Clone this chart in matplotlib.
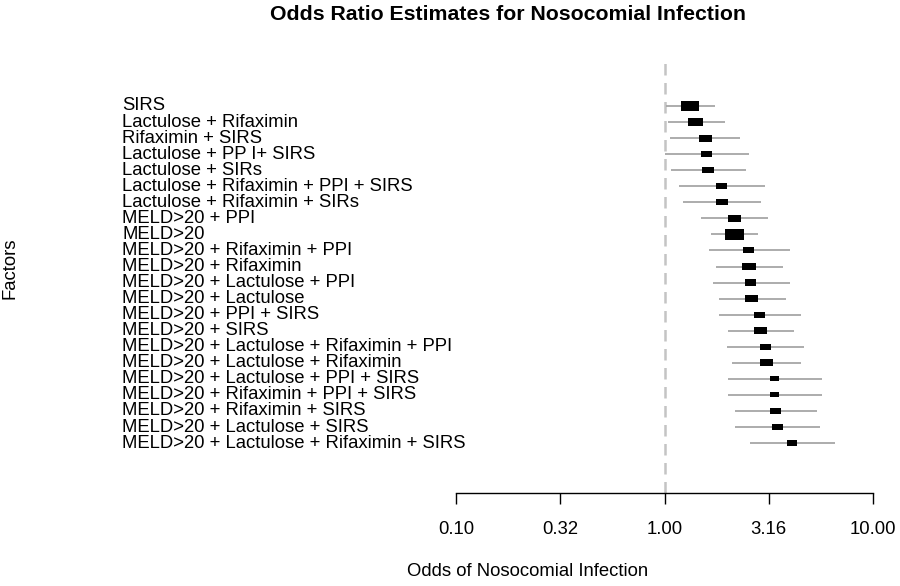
import numpy as np
import matplotlib.pyplot as plt
from matplotlib.path import Path

plt.rcParams['font.family'] = ['Liberation Sans', 'DejaVu Sans']

# Datos: odds ratio e intervalos de confianza
factors = [
    "SIRS",
    "Lactulose + Rifaximin",
    "Rifaximin + SIRS",
    "Lactulose + PP I+ SIRS",
    "Lactulose + SIRs",
    "Lactulose + Rifaximin + PPI + SIRS",
    "Lactulose + Rifaximin + SIRs",
    "MELD>20 + PPI",
    "MELD>20",
    "MELD>20 + Rifaximin + PPI",
    "MELD>20 + Rifaximin",
    "MELD>20 + Lactulose + PPI",
    "MELD>20 + Lactulose",
    "MELD>20 + PPI + SIRS",
    "MELD>20 + SIRS",
    "MELD>20 + Lactulose + Rifaximin + PPI",
    "MELD>20 + Lactulose + Rifaximin",
    "MELD>20 + Lactulose + PPI + SIRS",
    "MELD>20 + Rifaximin + PPI + SIRS",
    "MELD>20 + Rifaximin + SIRS",
    "MELD>20 + Lactulose + SIRS",
    "MELD>20 + Lactulose + Rifaximin + SIRS",
]
odds = [1.33, 1.41, 1.57, 1.59, 1.61, 1.88, 1.89, 2.17, 2.17, 2.54, 2.54,
        2.59, 2.61, 2.86, 2.89, 3.05, 3.08, 3.37, 3.37, 3.41, 3.48, 4.09]
lower = [1.02, 1.04, 1.06, 1.01, 1.08, 1.17, 1.22, 1.49, 1.68, 1.63, 1.77,
         1.70, 1.82, 1.82, 2.02, 1.99, 2.10, 2.02, 2.02, 2.17, 2.19, 2.56]
upper = [1.75, 1.95, 2.31, 2.54, 2.45, 3.02, 2.90, 3.13, 2.82, 3.98, 3.72,
         4.02, 3.82, 4.54, 4.19, 4.66, 4.54, 5.68, 5.68, 5.37, 5.60, 6.56]
ticks = [0.1, 0.316, 1.0, 3.16, 10.0]
tick_labels = ["0.10", "0.32", "1.00", "3.16", "10.00"]

odds = np.array(odds)
lower = np.array(lower)
upper = np.array(upper)
y = np.arange(len(factors))

# tamaño de la caja ~ 1/se (como rmeta)
info = 1.0 / (np.log(upper) - np.log(lower))
info = info / info.max()
box_pt = 13.7 * info

# marcador rectangular (ancho:alto ~ 1:0.54)
h = 0.54
box = Path([(-1, -h), (1, -h), (1, h), (-1, h), (-1, -h)],
           [Path.MOVETO, Path.LINETO, Path.LINETO, Path.LINETO, Path.CLOSEPOLY])

fs = 13.3

# ==============================
# Graficar
# ==============================
fig = plt.figure(figsize=(9, 5.86), dpi=100)
ax = fig.add_axes([456 / 900, 1 - 493 / 586, 417 / 900, (493 - 62) / 586])

ax.axvline(1.0, color="#c4c4c4", lw=1.8, ls=(0, (4.6, 3.0)), zorder=1)
ax.hlines(y, lower, upper, color="#a6a6a6", lw=1.3, zorder=2)
ax.scatter(odds, y, s=box_pt ** 2, marker=box, color="black", zorder=3,
           linewidths=0)

ax.set_xscale("log")
ax.set_xlim(0.1, 10)
ax.set_ylim(24.11, -2.74)
ax.set_xticks(ticks)
ax.set_xticklabels(tick_labels, fontsize=fs)
ax.minorticks_off()
ax.tick_params(axis="x", length=8, width=1, pad=12)
ax.set_yticks([])
for s in ["top", "left", "right"]:
    ax.spines[s].set_visible(False)
ax.spines["bottom"].set_linewidth(1)
ax.set_facecolor("none")

trans = ax.get_yaxis_transform()
for yi, name in zip(y, factors):
    ax.text(-(456 - 122) / 417, yi, name, transform=trans, ha="left",
            va="center", fontsize=fs, clip_on=False)

fig.text(508 / 900, 1 - 14 / 586, "Odds Ratio Estimates for Nosocomial Infection",
         ha="center", va="center", fontsize=15.3, fontweight="bold")
fig.text(528 / 900, 1 - 572 / 586, "Odds of Nosocomial Infection",
         ha="center", va="center", fontsize=fs)
fig.text(10 / 900, 1 - 268 / 586, "Factors", ha="center", va="center",
         rotation=90, fontsize=fs)

plt.savefig("out.png", dpi=100)
